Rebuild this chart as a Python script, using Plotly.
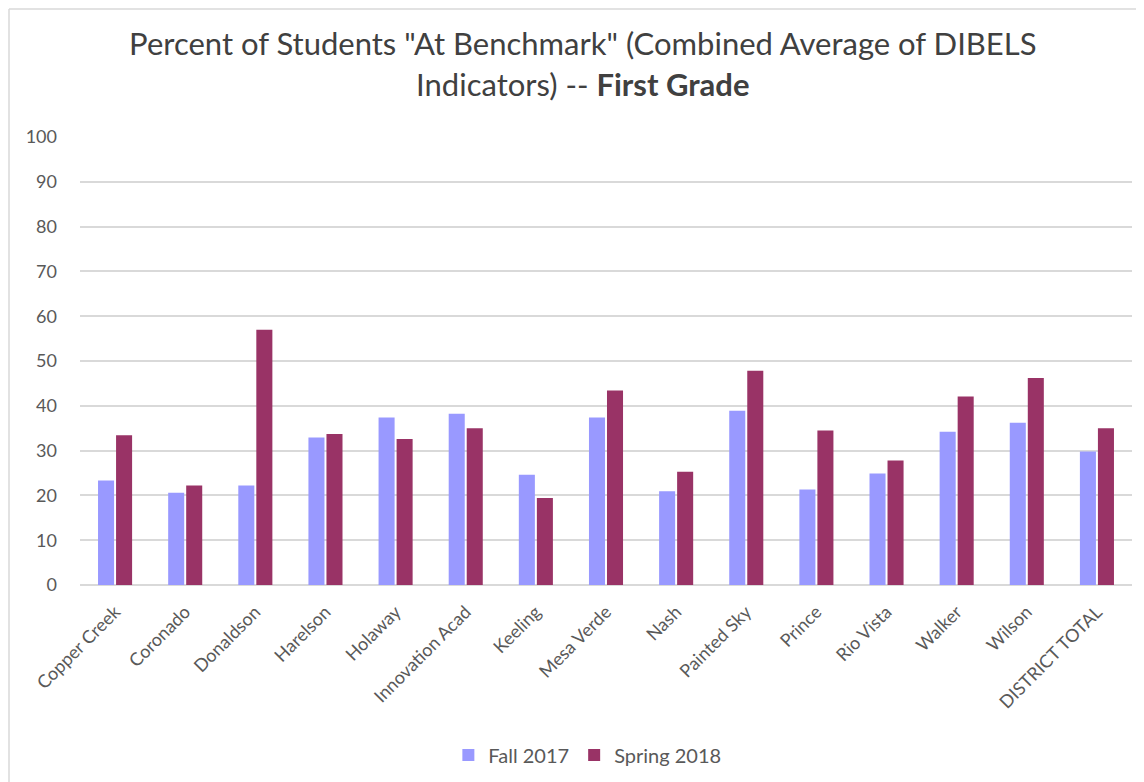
import plotly.graph_objects as go

# school names along the x axis
schools = ["Copper Creek", "Coronado", "Donaldson", "Harelson", "Holaway",
           "Innovation Acad", "Keeling", "Mesa Verde", "Nash", "Painted Sky",
           "Prince", "Rio Vista", "Walker", "Wilson", "DISTRICT TOTAL"]

# percent at benchmark
fall_2017 = [23.3, 20.6, 22.2, 32.9, 37.4, 38.2, 24.6, 37.4, 20.9, 38.9,
             21.3, 24.9, 34.2, 36.2, 29.8]
spring_2018 = [33.4, 22.2, 57.0, 33.7, 32.6, 35.0, 19.4, 43.4, 25.3, 47.8,
               34.5, 27.8, 42.1, 46.2, 35.0]

y_ticks = list(range(0, 101, 10))

font_family = "Lato, 'Open Sans', sans-serif"
text_grey = "#595959"

# the page body adds an 8px margin, so the figure is 8px smaller each way
W, H = 1136, 774
L, R, T, B = 72, 12, 129, 197
plot_w = W - L - R
plot_h = H - T - B

fig = go.Figure()
fig.add_trace(go.Bar(name="Fall 2017", x=schools, y=fall_2017,
                     marker=dict(color="#9999FF", line=dict(width=0))))
fig.add_trace(go.Bar(name="Spring 2018", x=schools, y=spring_2018,
                     marker=dict(color="#993366", line=dict(width=0))))

fig.update_layout(
    width=W, height=H,
    margin=dict(l=L, r=R, t=T, b=B),
    paper_bgcolor="white", plot_bgcolor="white",
    barmode="group", bargap=0.486, bargroupgap=0.11,
    font=dict(family=font_family, color=text_grey, size=18),
    title=dict(
        text='Percent of Students "At Benchmark" (Combined Average of DIBELS<br>'
             'Indicators) -- <b>First Grade</b>',
        x=0.506, xref="container", xanchor="center",
        y=0.939, yref="container", yanchor="top",
        font=dict(size=31, color="#404040", family=font_family),
    ),
    legend=dict(orientation="h", x=0.51, xref="container", xanchor="center",
                y=0.035, yref="container", yanchor="middle",
                font=dict(size=20, color=text_grey), traceorder="normal",
                itemwidth=30),
    showlegend=True,
)

fig.update_xaxes(tickangle=-45, showgrid=False, showline=False,
                 ticks="", ticklabelstandoff=12,
                 tickfont=dict(size=18, color=text_grey))
fig.update_yaxes(range=[0, 100], tickvals=y_ticks, showgrid=True,
                 gridcolor="#D9D9D9", gridwidth=1.5, zeroline=True,
                 zerolinecolor="#D9D9D9", zerolinewidth=1.5,
                 showline=False, ticks="", ticklabelstandoff=22,
                 tickfont=dict(size=18, color=text_grey))

# chart frame: only its top and left edges fall inside the picture
frame_left = (1 - L) / plot_w
frame_top = (plot_h + T - 1) / plot_h
frame_style = dict(color="#D9D9D9", width=1.5)
fig.add_shape(type="line", xref="paper", yref="paper",
              x0=frame_left, x1=frame_left, y0=-(B + 20) / plot_h, y1=frame_top,
              line=frame_style, layer="below")
fig.add_shape(type="line", xref="paper", yref="paper",
              x0=frame_left, x1=(W + 20 - L) / plot_w, y0=frame_top, y1=frame_top,
              line=frame_style, layer="below")

fig.write_html("out.html")
